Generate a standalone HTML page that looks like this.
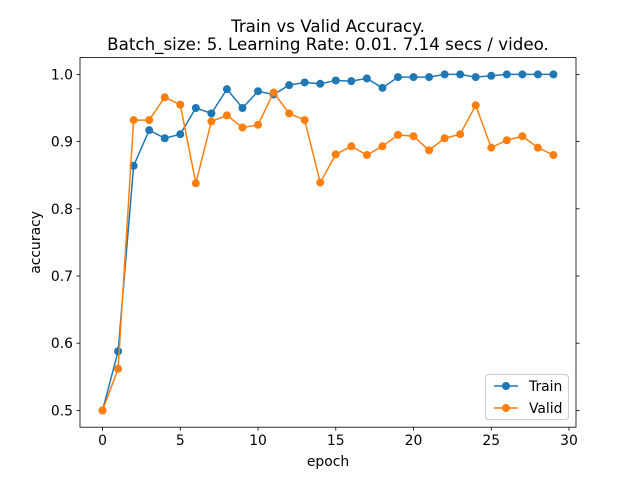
<!DOCTYPE html>
<html><head><meta charset="utf-8"><style>
body{margin:0;background:#fff}
svg{display:block;font-family:"DejaVu Sans","Liberation Sans",sans-serif}
</style></head><body>
<svg id="chart" width="640" height="480" viewBox="0 0 640 480">
<rect width="640" height="480" fill="#fff"/>
<text x="328" y="32" font-size="16.7" text-anchor="middle">Train vs Valid Accuracy.</text>
<text x="328" y="50" font-size="16.7" text-anchor="middle">Batch_size: 5. Learning Rate: 0.01. 7.14 secs / video.</text>
<g id="plot"></g>
</svg>
<script>
const epochs = [0,1,2,3,4,5,6,7,8,9,10,11,12,13,14,15,16,17,18,19,20,21,22,23,24,25,26,27,28,29];
const trainAcc = [0.5,0.588,0.864,0.917,0.905,0.911,0.950,0.942,0.978,0.950,0.975,0.970,0.984,0.988,0.986,0.991,0.990,0.994,0.980,0.996,0.996,0.996,1.0,1.0,0.996,0.998,1.0,1.0,1.0,1.0];
const validAcc = [0.5,0.562,0.932,0.932,0.966,0.955,0.838,0.930,0.939,0.921,0.925,0.973,0.942,0.932,0.839,0.881,0.893,0.880,0.893,0.910,0.908,0.887,0.905,0.911,0.954,0.891,0.902,0.908,0.891,0.880];
const xTicks = [0,5,10,15,20,25,30];
const yTicks = [0.5,0.6,0.7,0.8,0.9,1.0];

const L=80,R=576,T=57.6,B=427.2;
const xMin=-1.45,xMax=30.45,yMin=0.475,yMax=1.025;
const xs=v=>L+(v-xMin)/(xMax-xMin)*(R-L);
const ys=v=>B-(v-yMin)/(yMax-yMin)*(B-T);
const NS="http://www.w3.org/2000/svg";
const g=document.getElementById('plot');
function mk(tag,attrs,parent){const e=document.createElementNS(NS,tag);for(const k in attrs)e.setAttribute(k,attrs[k]);(parent||g).appendChild(e);return e;}

const frame=mk('rect',{x:L,y:T,width:R-L,height:B-T,fill:'none',stroke:'#000','stroke-width':0.8});



xTicks.forEach(t=>{
  const x=xs(t);
  const tk=mk('line',{x1:x,x2:x,y1:B,y2:B+3.5,stroke:'#000','stroke-width':0.8});
  
  
  const lb=mk('text',{x:x,y:B+18,'font-size':13.9,'text-anchor':'middle'});
  lb.textContent=t;
  
  
});
yTicks.forEach(t=>{
  const y=ys(t);
  const tk=mk('line',{x1:L-3.5,x2:L,y1:y,y2:y,stroke:'#000','stroke-width':0.8});
  
  
  const tk2=mk('line',{x1:R,x2:R+3.5,y1:y,y2:y,stroke:'#000','stroke-width':0.8});
  
  
  const lb=mk('text',{x:L-7,y:y+5,'font-size':13.9,'text-anchor':'end'});
  lb.textContent=t.toFixed(1);
  
  
});
const xt=mk('text',{x:(L+R)/2,y:466,'font-size':13.9,'text-anchor':'middle'});
xt.textContent='epoch';


const yt=mk('text',{x:0,y:0,'font-size':13.9,'text-anchor':'middle',transform:`translate(40,${(T+B)/2}) rotate(-90)`});
yt.textContent='accuracy';



function series(vals,color,name){
  const pts=epochs.map((e,i)=>xs(e)+','+ys(vals[i])).join(' ');
  const pl=mk('polyline',{points:pts,fill:'none',stroke:color,'stroke-width':1.5});
  
  
  epochs.forEach((e,i)=>{
    const c=mk('circle',{cx:xs(e),cy:ys(vals[i]),r:4,fill:color});
    
    
  });
}
series(trainAcc,'#1f77b4','train');
series(validAcc,'#ff7f0e','valid');

const lg=mk('rect',{x:485.5,y:374.5,width:83,height:45,rx:3,fill:'#fff','fill-opacity':0.8,stroke:'#ccc','stroke-width':1});


[['Train','#1f77b4',386],['Valid','#ff7f0e',408]].forEach(([n,c,y])=>{
  const ln=mk('line',{x1:494,x2:518,y1:y,y2:y,stroke:c,'stroke-width':1.5});
  
  
  const cc=mk('circle',{cx:506,cy:y,r:4,fill:c});
  
  
  const t=mk('text',{x:529,y:y+5,'font-size':13.9});
  t.textContent=n;
  
  
});
</script>
</body></html>
